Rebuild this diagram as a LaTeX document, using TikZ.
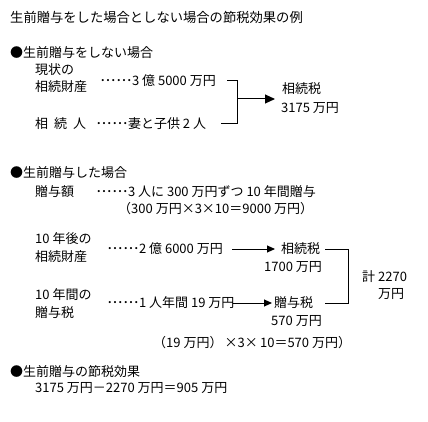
\documentclass[tikz,border=0pt]{standalone}
\usepackage{fontspec}
\usetikzlibrary{arrows.meta}
\newfontfamily\jp{Noto Sans CJK JP}
\newcommand\onedot{\makebox[5.3pt]{･}}
\newcommand\sixdots{\onedot\onedot\onedot\onedot\onedot\onedot}
\begin{document}
\begin{tikzpicture}[x=1pt,y=-1pt,
  txt/.style={anchor=west,inner sep=0pt,font=\jp\fontsize{13}{15}\selectfont},
  ln/.style={line width=1pt},
  arr/.style={line width=1pt,-{Triangle[length=10pt,width=9pt]}},
  arrs/.style={line width=1pt,-{Triangle[length=8pt,width=7pt]}}]
\useasboundingbox[fill=white] (0,0) rectangle (428,422);
% title
\node[txt,font=\jp\fontsize{13.3}{15}\selectfont] (title) at (10,17) {生前贈与をした場合としない場合の節税効果の例};
% section 1
\node[txt] (h1) at (10,53) {●生前贈与をしない場合};
\node[txt] (a1) at (35,70) {現状の};
\node[txt] (a2) at (35,87) {相続財産};
\node[txt] (a3) at (100,81) {\sixdots 3 億 5000 万円};
\node[txt] (a4) at (35,124) {相\hspace{6pt}続\hspace{6pt}人};
\node[txt] (a5) at (96,124) {\sixdots 妻と子供 2 人};
\node[txt] (r1) at (282,89) {相続税};
\node[txt] (r2) at (281,108) {3175 万円};
\coordinate (p1) at (227,81);
\coordinate (p2) at (221,124);
\coordinate (pj) at (237,99);
\coordinate (pt) at (275,99);
\draw[ln] (p1) -| (237,124) -- (p2);
\draw[arr] (pj) -- (pt);
% section 2
\node[txt] (h2) at (10,173) {●生前贈与した場合};
\node[txt] (b1) at (35,192) {贈与額};
\node[txt] (b2) at (96,192) {\sixdots 3 人に 300 万円ずつ 10 年間贈与};
\node[txt] (b3) at (118,209) {（300 万円×3×10＝9000 万円）};
\node[txt] (c1) at (35,239) {10 年後の};
\node[txt] (c2) at (35,257) {相続財産};
\node[txt] (c3) at (107,249) {\sixdots 2 億 6000 万円};
\node[txt] (c4) at (281,249) {相続税};
\node[txt] (c5) at (264,267) {1700 万円};
\node[txt] (k1) at (362,277) {計 2270};
\node[txt] (k2) at (378,294) {万円};
\node[txt] (d1) at (35,295) {10 年間の};
\node[txt] (d2) at (35,313) {贈与税};
\node[txt] (d3) at (107,303) {\sixdots 1 人年間 19 万円};
\node[txt] (d4) at (274,303) {贈与税};
\node[txt] (d5) at (271,321) {570 万円};
\node[txt] (e1) at (153,343) {（19 万円）\,×3×\,10＝570 万円）};
\coordinate (q1) at (232,249);
\coordinate (q1t) at (275,249);
\coordinate (q2) at (233,303);
\coordinate (q2t) at (272,303);
\draw[arrs] (q1) -- (q1t);
\draw[arrs] (q2) -- (q2t);
\coordinate (s1) at (325,249);
\coordinate (s2) at (325,303);
\draw[ln] (s1) -| (348,303) -- (s2);
% section 3
\node[txt] (h3) at (10,372) {●生前贈与の節税効果};
\node[txt] (e2) at (35,388) {3175 万円－2270 万円＝905 万円};
\end{tikzpicture}
\end{document}
